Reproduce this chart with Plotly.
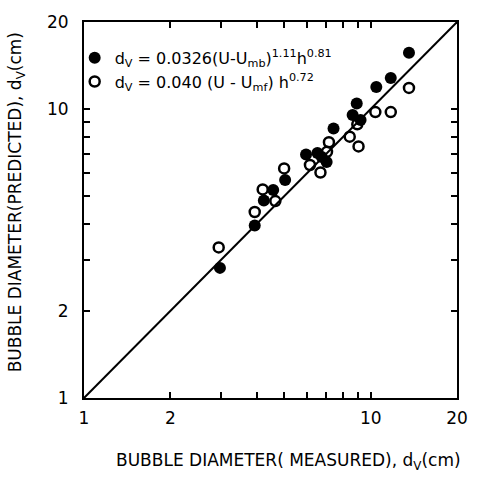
import plotly.graph_objects as go

# Filled circles: d_V = 0.0326 (U-U_mb)^1.11 h^0.81
meas_mb = [13.6, 11.75, 10.46, 8.94, 8.65, 9.22, 7.42, 5.95, 6.52, 6.75, 7.02, 5.03, 4.57, 4.24, 3.94, 2.98]
pred_mb = [15.66, 12.8, 11.92, 10.45, 9.53, 9.16, 8.56, 6.96, 7.04, 6.82, 6.56, 5.68, 5.24, 4.82, 3.95, 2.82]

# Open circles: d_V = 0.040 (U-U_mf) h^0.72
meas_mf = [13.6, 11.75, 10.38, 8.98, 8.45, 9.07, 7.15, 7.04, 6.14, 6.68, 4.99, 4.20, 4.65, 3.94, 2.95]
pred_mf = [11.83, 9.76, 9.76, 8.85, 8.02, 7.42, 7.67, 7.11, 6.40, 6.03, 6.23, 5.27, 4.80, 4.40, 3.32]

# Parity line
line_x = [1, 20]
line_y = [1, 20]

tick_vals = [1, 2, 10, 20]
tick_text = ["1", "2", "10", "20"]
minor_vals = [3, 4, 5, 6, 7, 8, 9]

FONT = "DejaVu Sans"

fig = go.Figure()
fig.add_trace(go.Scatter(x=line_x, y=line_y, mode="lines",
                         line=dict(color="black", width=2), showlegend=False))
fig.add_trace(go.Scatter(x=meas_mb, y=pred_mb, mode="markers",
                         marker=dict(symbol="circle", size=12, color="black"),
                         name="d<sub>V</sub> = 0.0326(U-U<sub>mb</sub>)<sup>1.11</sup>h<sup>0.81</sup>"))
fig.add_trace(go.Scatter(x=meas_mf, y=pred_mf, mode="markers",
                         marker=dict(symbol="circle-open", size=10, color="black",
                                     line=dict(width=2.5, color="black")),
                         name="d<sub>V</sub> = 0.040 (U - U<sub>mf</sub>) h<sup>0.72</sup>"))

axis_common = dict(
    type="log", range=[0, 1.30103],
    tickmode="array", tickvals=tick_vals, ticktext=tick_text,
    ticks="inside", ticklen=6, tickwidth=1.5, tickcolor="black",
    minor=dict(tickmode="array", tickvals=minor_vals, ticks="inside", ticklen=6,
               tickwidth=1.5, tickcolor="black", showgrid=False),
    showline=True, linecolor="black", linewidth=2, mirror="allticks",
    showgrid=False, zeroline=False,
    tickfont=dict(family=FONT, size=17, color="black"),
)

fig.update_layout(
    width=480, height=477,
    margin=dict(l=84, r=15, t=22, b=79),
    paper_bgcolor="white", plot_bgcolor="white",
    font=dict(family=FONT, color="black"),
    xaxis=dict(**axis_common, ticklabelstandoff=4),
    yaxis=dict(**axis_common, ticklabelstandoff=10),
    legend=dict(x=-0.025, y=0.95, xanchor="left", yanchor="top",
                bgcolor="rgba(0,0,0,0)", font=dict(family=FONT, size=16, color="black"),
                itemwidth=30, tracegroupgap=0),
    annotations=[
        dict(text="BUBBLE DIAMETER(PREDICTED), d<sub>V</sub>(cm)", xref="paper", yref="paper",
             x=-0.18, y=0.52, xanchor="center", yanchor="middle", textangle=-90,
             showarrow=False, font=dict(family=FONT, size=17, color="black")),
        dict(text="BUBBLE DIAMETER( MEASURED), d<sub>V</sub>(cm)", xref="paper", yref="paper",
             x=0.08, y=-0.17, xanchor="left", yanchor="middle",
             showarrow=False, font=dict(family=FONT, size=17, color="black")),
    ],
)

fig.write_html("out.html")
